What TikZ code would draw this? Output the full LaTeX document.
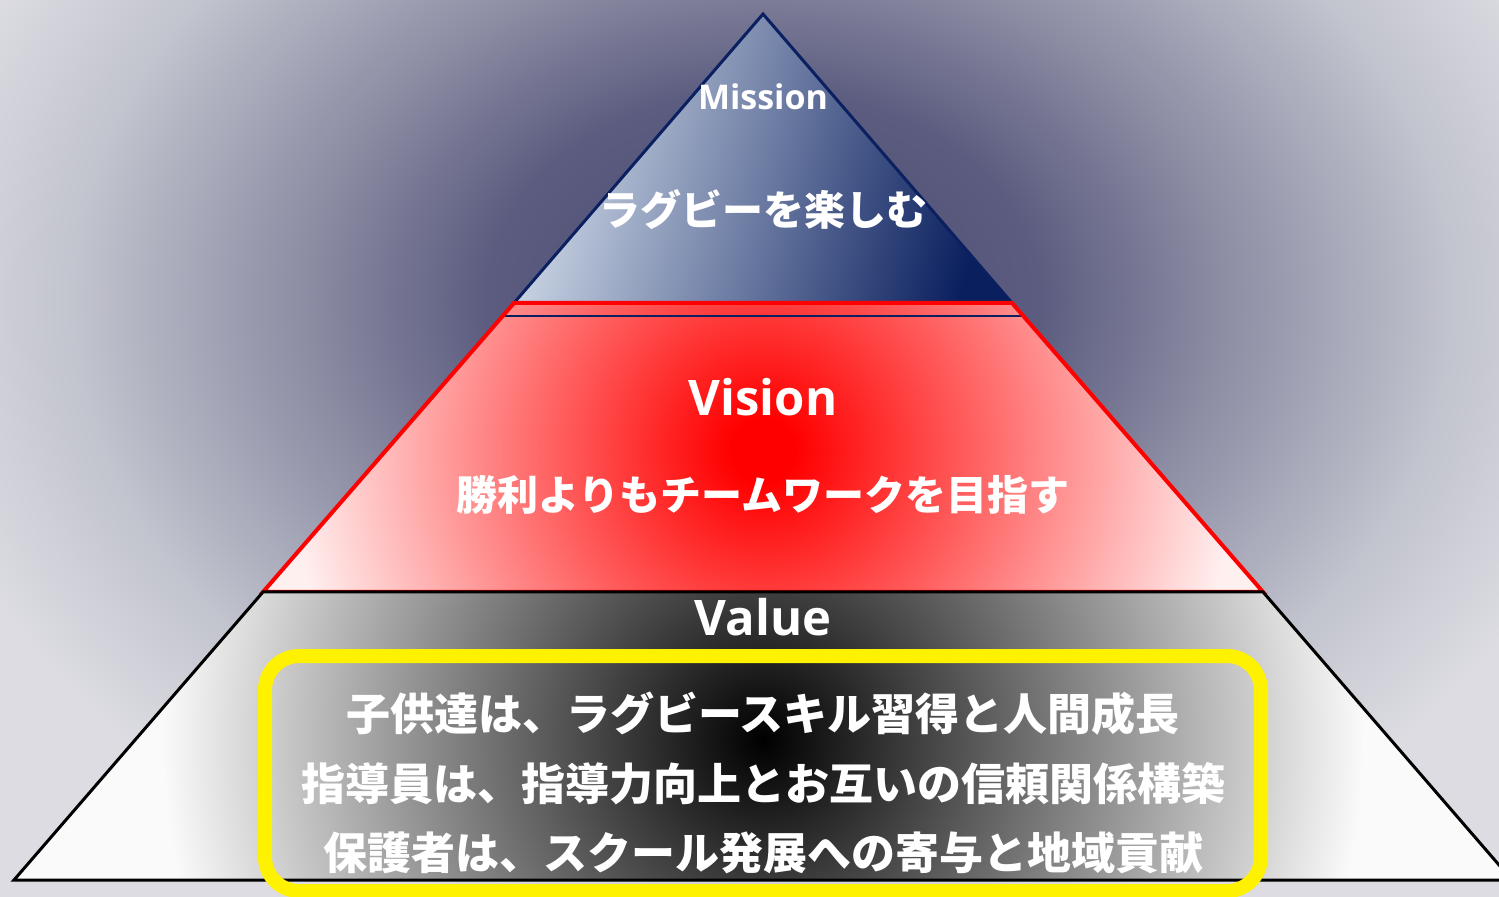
\documentclass[tikz,border=0pt]{standalone}
\usepackage{fontspec}
\usepackage{tikz}
\usepackage{color}

\newfontfamily\jpfont{Noto Sans CJK JP}
\newfontfamily\titlefont{Open Sans}

\definecolor{bgdark}{HTML}{4A4A70}
\definecolor{bgmid}{HTML}{5C5C80}
\definecolor{bggray}{HTML}{8A8AA2}
\definecolor{bgpale}{HTML}{C2C4CE}
\definecolor{bglight}{HTML}{DCDCE2}
\definecolor{mislight}{HTML}{D2DCEA}
\definecolor{misdark}{HTML}{0A1F5E}
\definecolor{misborder}{HTML}{0A2060}
\definecolor{vispale}{HTML}{FFF0F0}
\definecolor{valpale}{HTML}{FAFAFA}

\pgfdeclareradialshading{bgshade}{\pgfpoint{0bp}{0bp}}{color(0bp)=(bgdark); color(8bp)=(bgmid); color(13bp)=(bggray); color(20bp)=(bgpale); color(25bp)=(bglight); color(50bp)=(bglight)}
\pgfdeclareradialshading{visshade}{\pgfpoint{0bp}{0bp}}{color(0bp)=(red); color(1.5bp)=(red); color(22bp)=(vispale); color(50bp)=(vispale)}
\pgfdeclareradialshading{valshade}{\pgfpoint{0bp}{0bp}}{color(0bp)=(black); color(19.5bp)=(valpale); color(50bp)=(valpale)}

\begin{document}
\begin{tikzpicture}[x=0.5pt,y=-0.5pt,
  title/.style={text=white,inner sep=0pt,font=\titlefont\bfseries\fontsize{24.5pt}{28pt}\selectfont},
  smalltitle/.style={title,font=\titlefont\bfseries\fontsize{17pt}{20pt}\selectfont},
  jptext/.style={text=white,inner sep=0pt,font=\jpfont\bfseries\fontsize{20.5pt}{24pt}\selectfont},
  valtext/.style={jptext,font=\jpfont\bfseries\fontsize{22pt}{26pt}\selectfont},
  misborder/.style={draw=misborder,line width=1.5pt},
  visborder/.style={draw=red,line width=2pt},
  valborder/.style={draw=black,line width=1.5pt},
  valuebox/.style={draw=yellow,line width=7pt,rounded corners=17pt,minimum width=498pt,minimum height=117.5pt,inner sep=0pt}]
\useasboundingbox (0,0) rectangle (1499,897);
\clip (0,0) rectangle (1499,897);
% background
\shade[shading=bgshade] (-100,-350) rectangle (1626,950);
% corners of the layers
\coordinate (apex) at (763,14);
\coordinate (ml) at (514,303);
\coordinate (mr) at (1012,303);
\coordinate (vl) at (263,592);
\coordinate (vr) at (1263,592);
\coordinate (bl) at (14,880);
\coordinate (br) at (1512,880);
% mission
\shade[misborder,line join=miter,top color=mislight,bottom color=misdark,shading angle=75] (apex) -- (mr) -- (ml) -- cycle;
% vision
\begin{scope}
\clip (ml) -- (mr) -- (vr) -- (vl) -- cycle;
\shade[shading=visshade] (223,-90) rectangle (1303,990);
\draw[misborder,line width=0.75pt] (502,316) -- (1024,316);
\end{scope}
\draw[visborder,line join=miter] (ml) -- (mr) -- (vr) -- (vl) -- cycle;
% value
\begin{scope}
\clip (vl) -- (vr) -- (br) -- (bl) -- cycle;
\shade[shading=valshade] (-7,-30) rectangle (1533,1510);
\end{scope}
\draw[valborder,line join=miter] (vl) -- (vr) -- (br) -- (bl) -- cycle;
\node[valuebox] (valuebox) at (763,773.5) {};

\node[smalltitle] (mission) at (763,97) {Mission};
\node[jptext] (missiontext) at (763,210) {ラグビーを楽しむ};
\node[title] (vision) at (763,397) {Vision};
\node[jptext] (visiontext) at (763,495) {勝利よりもチームワークを目指す};
\node[title] (value) at (763,617) {Value};
\node[valtext] (valueone) at (763,714) {子供達は、ラグビースキル習得と人間成長};
\node[valtext] (valuetwo) at (763,784) {指導員は、指導力向上とお互いの信頼関係構築};
\node[valtext] (valuethree) at (763,853) {保護者は、スクール発展への寄与と地域貢献};
\end{tikzpicture}
\end{document}
